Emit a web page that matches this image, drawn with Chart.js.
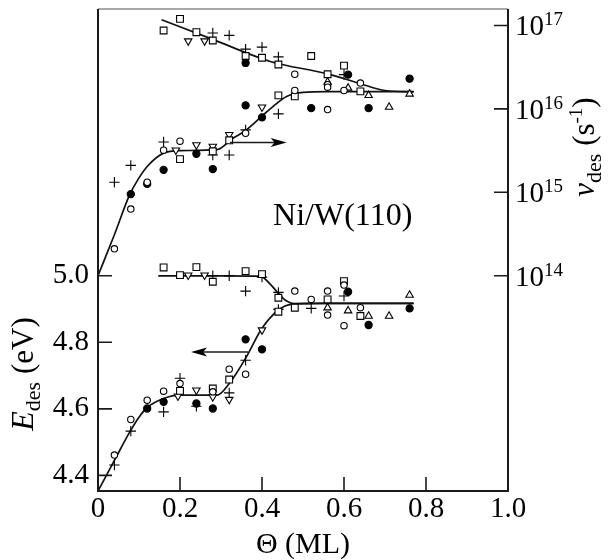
<!DOCTYPE html>
<html>
<head>
<meta charset="utf-8">
<script src="https://cdn.jsdelivr.net/npm/chart.js@4.4.1/dist/chart.umd.min.js"></script>
<style>
    body { margin: 0; background: #fff; }
    #wrap { width: 608px; height: 560px; }
</style>
</head>
<body>
<div id="wrap"><canvas id="chart" width="608" height="560"></canvas></div>
<script>
// tick values
var xTicks = [0, 0.2, 0.4, 0.6, 0.8, 1.0];
var eTicks = [4.4, 4.6, 4.8, 5.0];
var nuTicks = [1e14, 1e15, 1e16, 1e17];

// desorption frequency (right axis), [theta, nu]
var nuOpenCircle = [[0.04, 2.1e14], [0.08, 6.3e14], [0.12, 1.32e15], [0.16, 3.2e15], [0.20, 4.1e15], [0.36, 5.1e15],
    [0.48, 2.6e16], [0.48, 1.66e16], [0.56, 1.95e16], [0.56, 1.82e16], [0.56, 9.8e15], [0.60, 1.66e16], [0.64, 2.04e16]];
var nuFilledCircle = [[0.08, 9.5e14], [0.12, 1.26e15], [0.16, 1.86e15], [0.24, 2.9e15], [0.28, 1.9e15], [0.36, 1.1e16],
    [0.40, 7.9e15], [0.36, 3.55e16], [0.52, 1.02e16], [0.61, 2.57e16], [0.66, 1.02e16], [0.76, 2.3e16]];
var nuSquare = [[0.16, 8.7e16], [0.20, 1.2e17], [0.24, 8.3e16], [0.28, 6.6e16], [0.36, 4.3e16], [0.40, 4.1e16],
    [0.44, 3.4e16], [0.52, 4.3e16], [0.56, 2.6e16], [0.60, 3.3e16], [0.64, 1.62e16], [0.20, 2.5e15], [0.28, 3.1e15],
    [0.32, 4.2e15], [0.44, 1.45e16], [0.48, 1.41e16]];
var nuDownTri = [[0.22, 6.5e16], [0.26, 6.5e16], [0.19, 3.2e15], [0.24, 3.7e15], [0.28, 3.55e15], [0.32, 4.9e15], [0.40, 1.05e16]];
var nuPlus = [[0.28, 8.1e16], [0.32, 7.6e16], [0.36, 5.2e16], [0.40, 5.5e16], [0.44, 4.2e16], [0.04, 1.32e15],
    [0.08, 2.1e15], [0.16, 4.0e15], [0.28, 2.8e15], [0.32, 2.8e15], [0.36, 5.6e15], [0.44, 8.7e15], [0.60, 2.57e16]];
var nuUpTri = [[0.56, 2.1e16], [0.61, 1.78e16], [0.66, 1.45e16], [0.71, 1.05e16], [0.76, 1.51e16]];
var nuFitHigh = [[0.155, 1.17e17], [0.28, 6.8e16], [0.42, 3.7e16], [0.56, 2.63e16], [0.64, 2.0e16], [0.70, 1.66e16], [0.77, 1.6e16]];
var nuFitLow = [[0, 1e14], [0.04, 3.1e14], [0.077, 9.3e14], [0.097, 1.41e15], [0.12, 2.04e15], [0.16, 2.95e15],
    [0.20, 3.16e15], [0.29, 3.24e15], [0.33, 4.47e15], [0.36, 5.5e15], [0.40, 8.2e15], [0.42, 1.0e16], [0.46, 1.41e16],
    [0.50, 1.58e16], [0.56, 1.61e16], [0.77, 1.61e16]];

// desorption energy (left axis), [theta, E]
var eOpenCircle = [[0.04, 4.461], [0.08, 4.568], [0.12, 4.626], [0.16, 4.653], [0.20, 4.676], [0.28, 4.651], [0.32, 4.719],
    [0.36, 4.704], [0.48, 4.954], [0.52, 4.929], [0.56, 4.954], [0.56, 4.882], [0.60, 4.972], [0.60, 4.850], [0.64, 4.904]];
var eFilledCircle = [[0.12, 4.601], [0.16, 4.621], [0.24, 4.616], [0.28, 4.601], [0.36, 4.809], [0.40, 4.779],
    [0.61, 4.952], [0.66, 4.852], [0.76, 4.902]];
var eSquare = [[0.16, 5.025], [0.20, 5.002], [0.24, 5.026], [0.28, 4.982], [0.36, 5.014], [0.40, 5.005], [0.44, 4.934],
    [0.44, 4.892], [0.48, 4.904], [0.56, 4.929], [0.60, 4.984], [0.64, 4.879], [0.20, 4.654], [0.28, 4.661], [0.32, 4.688]];
var eDownTri = [[0.22, 5.002], [0.26, 5.002], [0.195, 4.638], [0.24, 4.656], [0.28, 4.636], [0.32, 4.628], [0.40, 4.837]];
var ePlus = [[0.28, 5.0], [0.32, 5.0], [0.36, 4.954], [0.40, 4.996], [0.44, 4.950], [0.44, 4.899], [0.52, 4.902],
    [0.60, 4.939], [0.04, 4.431], [0.08, 4.533], [0.16, 4.591], [0.20, 4.692], [0.24, 4.608], [0.32, 4.648], [0.36, 4.746]];
var eUpTri = [[0.56, 4.904], [0.61, 4.895], [0.66, 4.879], [0.71, 4.879], [0.76, 4.942]];
var eFitHigh = [[0.147, 5.0], [0.30, 5.0], [0.395, 4.999], [0.42, 4.975], [0.44, 4.947], [0.46, 4.924], [0.48, 4.916],
    [0.55, 4.917], [0.77, 4.917]];
var eFitLow = [[0, 4.353], [0.04, 4.445], [0.08, 4.536], [0.10, 4.575], [0.12, 4.604], [0.16, 4.631], [0.20, 4.641],
    [0.29, 4.641], [0.32, 4.676], [0.36, 4.752], [0.40, 4.842], [0.44, 4.897], [0.47, 4.914], [0.52, 4.917], [0.77, 4.917]];

// arrows pointing at the axis each group belongs to: [from, to]
var nuArrow = [[0.322, 3.95e15], [0.46, 3.95e15]];
var eArrow = [[0.366, 4.771], [0.227, 4.771]];

var SERIF = "'Liberation Serif', 'DejaVu Serif', serif";

function pts(list) {
    return list.map(function (p) { return { x: p[0], y: p[1] }; });
}

function marks(list, axis, style, fill, radius, rot) {
    return {
        data: pts(list),
        yAxisID: axis,
        showLine: false,
        pointStyle: style,
        pointRadius: radius,
        pointRotation: rot || 0,
        pointBackgroundColor: fill,
        pointBorderColor: '#000',
        pointBorderWidth: 1.1,
        order: 1
    };
}

function fit(list, axis) {
    return {
        data: pts(list),
        yAxisID: axis,
        showLine: true,
        borderColor: '#111',
        borderWidth: 1.7,
        pointRadius: 0,
        cubicInterpolationMode: 'monotone',
        fill: false,
        order: 5
    };
}

// draws a run of text pieces (with sub/superscripts) along a baseline
function richText(ctx, parts, x, y, angle, align) {
    ctx.save();
    ctx.translate(x, y);
    ctx.rotate(angle);
    var w = 0;
    parts.forEach(function (p) {
        ctx.font = (p.italic ? 'italic ' : '') + p.size + 'px ' + SERIF;
        p.w = ctx.measureText(p.t).width;
        w += p.w;
    });
    var cx = align === 'center' ? -w / 2 : 0;
    ctx.textAlign = 'left';
    ctx.textBaseline = 'alphabetic';
    parts.forEach(function (p) {
        ctx.font = (p.italic ? 'italic ' : '') + p.size + 'px ' + SERIF;
        ctx.fillText(p.t, cx, p.dy || 0);
        cx += p.w;
    });
    ctx.restore();
}

function arrow(ctx, x1, y1, x2, y2) {
    var dir = x2 > x1 ? 1 : -1;
    ctx.beginPath();
    ctx.moveTo(x1, y1);
    ctx.lineTo(x2 - dir * 10, y2);
    ctx.lineWidth = 1.6;
    ctx.stroke();
    ctx.beginPath();
    ctx.moveTo(x2, y2);
    ctx.lineTo(x2 - dir * 16, y2 - 4.5);
    ctx.lineTo(x2 - dir * 12, y2);
    ctx.lineTo(x2 - dir * 16, y2 + 4.5);
    ctx.closePath();
    ctx.fill();
}

var decor = {
    id: 'decor',
    afterDraw: function (chart) {
        var ctx = chart.ctx;
        var a = chart.chartArea;
        var sx = chart.scales.x, sE = chart.scales.yE, sN = chart.scales.yN;
        ctx.save();
        ctx.fillStyle = '#000';

        // frame
        ctx.lineWidth = 1.2;
        ctx.strokeStyle = '#555';
        ctx.beginPath();
        ctx.moveTo(a.left, a.top);
        ctx.lineTo(a.right, a.top);
        ctx.stroke();
        ctx.strokeStyle = '#1a1a1a';
        ctx.lineWidth = 2;
        ctx.beginPath();
        ctx.moveTo(a.left, a.top);
        ctx.lineTo(a.left, a.bottom);
        ctx.lineTo(a.right, a.bottom);
        ctx.lineTo(a.right, a.top);
        ctx.stroke();

        // inward ticks
        ctx.lineWidth = 1.6;
        ctx.beginPath();
        sx.ticks.forEach(function (t) {
            var px = sx.getPixelForValue(t.value);
            ctx.moveTo(px, a.bottom);
            ctx.lineTo(px, a.bottom - 14);
        });
        sE.ticks.forEach(function (t) {
            var py = sE.getPixelForValue(t.value);
            ctx.moveTo(a.left, py);
            ctx.lineTo(a.left + 14, py);
        });
        sN.ticks.forEach(function (t) {
            var py = sN.getPixelForValue(t.value);
            ctx.moveTo(a.right - 14, py);
            ctx.lineTo(a.right, py);
        });
        ctx.stroke();

        // right tick labels 10^n
        sN.ticks.forEach(function (t) {
            var py = sN.getPixelForValue(t.value);
            var n = Math.round(Math.log10(t.value));
            richText(ctx, [{ t: '10', size: 29 }, { t: String(n), size: 19, dy: -10 }], a.right + 7, py + 10, 0, 'left');
        });

        // axis titles
        richText(ctx, [{ t: 'Θ (ML)', size: 30 }], (a.left + a.right) / 2, 553, 0, 'center');
        richText(ctx, [{ t: 'E', size: 32, italic: true }, { t: 'des', size: 22, dy: 7 }, { t: ' (eV)', size: 31 }],
            33, 374, -Math.PI / 2, 'center');
        richText(ctx, [{ t: 'ν', size: 31, italic: true }, { t: 'des', size: 22, dy: 7 }, { t: ' (s', size: 31 },
            { t: '-1', size: 19, dy: -12 }, { t: ')', size: 31 }], 594, 147, -Math.PI / 2, 'center');

        // sample label
        richText(ctx, [{ t: 'Ni/W(110)', size: 32 }], sx.getPixelForValue(0.427), sN.getPixelForValue(4.1e14), 0, 'left');

        // arrows
        arrow(ctx, sx.getPixelForValue(nuArrow[0][0]), sN.getPixelForValue(nuArrow[0][1]),
            sx.getPixelForValue(nuArrow[1][0]), sN.getPixelForValue(nuArrow[1][1]));
        arrow(ctx, sx.getPixelForValue(eArrow[0][0]), sE.getPixelForValue(eArrow[0][1]),
            sx.getPixelForValue(eArrow[1][0]), sE.getPixelForValue(eArrow[1][1]));
        ctx.restore();
    }
};

function noPad(s) {
    s.paddingTop = 0;
    s.paddingBottom = 0;
}

var ctx = document.getElementById('chart');

var chart = new Chart(ctx, {
    type: 'scatter',
    data: {
        datasets: [
            marks(nuOpenCircle, 'yN', 'circle', '#fff', 3.2),
            marks(nuFilledCircle, 'yN', 'circle', '#000', 3.6),
            marks(nuSquare, 'yN', 'rect', '#fff', 4.8),
            marks(nuDownTri, 'yN', 'triangle', '#fff', 4.3, 180),
            marks(nuPlus, 'yN', 'cross', '#000', 5.2),
            marks(nuUpTri, 'yN', 'triangle', '#fff', 4.3),
            marks(eOpenCircle, 'yE', 'circle', '#fff', 3.2),
            marks(eFilledCircle, 'yE', 'circle', '#000', 3.6),
            marks(eSquare, 'yE', 'rect', '#fff', 4.8),
            marks(eDownTri, 'yE', 'triangle', '#fff', 4.3, 180),
            marks(ePlus, 'yE', 'cross', '#000', 5.2),
            marks(eUpTri, 'yE', 'triangle', '#fff', 4.3),
            fit(nuFitHigh, 'yN'),
            fit(nuFitLow, 'yN'),
            fit(eFitHigh, 'yE'),
            fit(eFitLow, 'yE')
        ]
    },
    options: {
        responsive: false,
        animation: false,
        devicePixelRatio: 1,
        layout: { padding: { top: 9, left: 0, right: 0, bottom: 0 } },
        plugins: { legend: { display: false }, tooltip: { enabled: false } },
        scales: {
            x: {
                type: 'linear',
                min: 0,
                max: 1,
                afterBuildTicks: function (s) { s.ticks = xTicks.map(function (v) { return { value: v }; }); },
                afterFit: function (s) { s.height = 69; s.paddingLeft = 0; s.paddingRight = 0; },
                grid: { display: false, drawTicks: false },
                border: { display: false },
                ticks: {
                    padding: 1,
                    color: '#000',
                    font: { family: SERIF, size: 29 },
                    maxRotation: 0,
                    callback: function (v) { return v === 0 ? '0' : v.toFixed(1); }
                }
            },
            yE: {
                type: 'linear',
                position: 'left',
                min: 4.353,
                max: 5.802,
                afterBuildTicks: function (s) { s.ticks = eTicks.map(function (v) { return { value: v }; }); },
                afterFit: function (s) { s.width = 98; noPad(s); },
                grid: { display: false, drawTicks: false },
                border: { display: false },
                ticks: {
                    padding: 9,
                    color: '#000',
                    font: { family: SERIF, size: 29 },
                    callback: function (v) { return v.toFixed(1); }
                }
            },
            yN: {
                type: 'logarithmic',
                position: 'right',
                min: Math.pow(10, 11.42),
                max: Math.pow(10, 17.197),
                afterBuildTicks: function (s) { s.ticks = nuTicks.map(function (v) { return { value: v }; }); },
                afterFit: function (s) { s.width = 100; noPad(s); },
                grid: { display: false, drawTicks: false },
                border: { display: false },
                ticks: { display: false }
            }
        }
    },
    plugins: [decor]
});
</script>
</body>
</html>
